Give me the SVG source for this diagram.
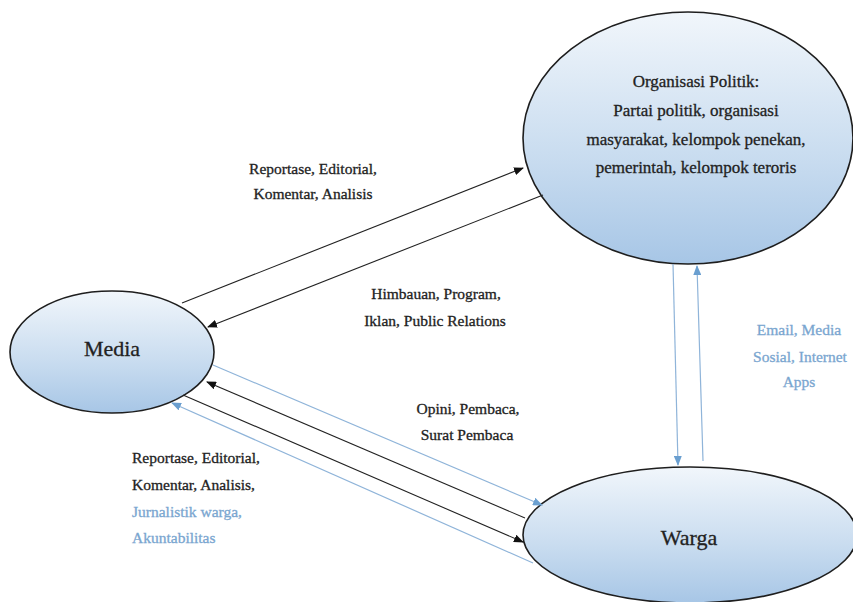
<svg xmlns="http://www.w3.org/2000/svg" width="853" height="602" viewBox="0 0 853 602">
<defs>
<linearGradient id="g" x1="0" y1="0" x2="0" y2="1">
<stop offset="0" stop-color="#f1f6fb"/>
<stop offset="0.6" stop-color="#c7dbef"/>
<stop offset="1" stop-color="#a7c6e6"/>
</linearGradient>
<marker id="ab" markerWidth="10" markerHeight="8" refX="9" refY="4" orient="auto" markerUnits="userSpaceOnUse">
<path d="M0,0 L10,4 L0,8 Z" fill="#111"/>
</marker>
<marker id="au" markerWidth="10" markerHeight="8" refX="9" refY="4" orient="auto" markerUnits="userSpaceOnUse">
<path d="M0,0 L10,4 L0,8 Z" fill="#6a9fd0"/>
</marker>
</defs>
<style>
.node{fill:url(#g);stroke:#1e1e1e;stroke-width:1.6}
text{font-family:"Liberation Serif","Times New Roman",serif;fill:#222;stroke:#222;stroke-width:0.3}
.lb{font-size:15.5px}
.blue{fill:#7aa6d0;stroke:#7aa6d0}
.k{stroke:#222;stroke-width:1.1;fill:none;marker-end:url(#ab)}
.b{stroke:#8fb4d9;stroke-width:1.2;fill:none;marker-end:url(#au)}
</style>
<rect width="853" height="602" fill="#fff"/>
<g id="org">
<ellipse class="node" cx="688" cy="138" rx="165" ry="126"/>
<text font-size="17" text-anchor="middle"><tspan x="696" y="87">Organisasi Politik:</tspan><tspan x="696" y="116">Partai politik, organisasi</tspan><tspan x="696" y="145">masyarakat, kelompok penekan,</tspan><tspan x="696" y="173">pemerintah, kelompok teroris</tspan></text>
</g>
<g id="media">
<ellipse class="node" cx="112" cy="352" rx="102" ry="61"/>
<text font-size="22" x="112" y="356" text-anchor="middle">Media</text>
</g>
<g id="warga">
<ellipse class="node" cx="690" cy="535" rx="167" ry="68"/>
<text font-size="22" x="689" y="545" text-anchor="middle">Warga</text>
</g>
<g id="connectors">
<line class="k" x1="182" y1="303" x2="523" y2="168"/>
<line class="k" x1="543" y1="195" x2="208" y2="327"/>
<line class="b" x1="213" y1="365" x2="542" y2="505"/>
<line class="k" x1="525" y1="518" x2="207" y2="382"/>
<line class="k" x1="183" y1="395" x2="523" y2="542"/>
<line class="b" x1="533" y1="563" x2="172" y2="403"/>
<line class="b" x1="673" y1="264" x2="678" y2="465"/>
<line class="b" x1="703" y1="461" x2="697" y2="266"/>
</g>
<g id="labels">
<text class="lb" text-anchor="middle"><tspan x="313" y="174">Reportase, Editorial,</tspan><tspan x="313" y="199">Komentar, Analisis</tspan></text>
<text class="lb" text-anchor="middle"><tspan x="436" y="299">Himbauan, Program,</tspan><tspan x="435" y="326">Iklan, Public Relations</tspan></text>
<text class="lb" text-anchor="middle"><tspan x="468" y="414">Opini, Pembaca,</tspan><tspan x="467" y="440">Surat Pembaca</tspan></text>
<text class="lb"><tspan x="132" y="463">Reportase, Editorial,</tspan><tspan x="132" y="490">Komentar, Analisis,</tspan><tspan class="blue" x="132" y="517">Jurnalistik warga,</tspan><tspan class="blue" x="132" y="543">Akuntabilitas</tspan></text>
<text class="lb blue" text-anchor="middle"><tspan x="799" y="335">Email, Media</tspan><tspan x="800" y="362">Sosial, Internet</tspan><tspan x="799" y="387">Apps</tspan></text>
</g>
</svg>
